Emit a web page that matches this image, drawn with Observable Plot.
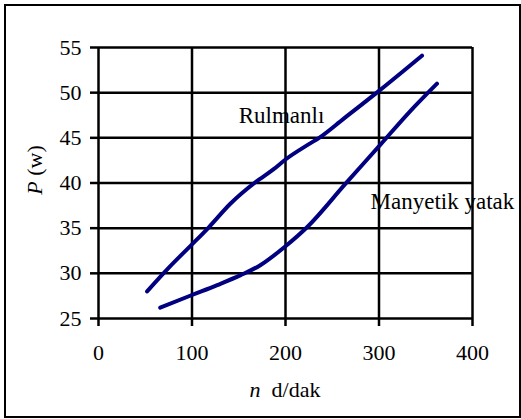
<!DOCTYPE html>
<html><head><meta charset="utf-8">
<script src="https://cdn.jsdelivr.net/npm/d3@7"></script>
<script src="https://cdn.jsdelivr.net/npm/@observablehq/plot@0.6"></script>
<style>
body{margin:0;background:#fff;}
#wrap{position:relative;width:521px;height:419px;}
#border{position:absolute;left:4px;top:4px;width:513px;height:410px;border:2px solid #000;pointer-events:none;}
#wrap svg, #wrap svg text{font-family:'Liberation Serif','Times New Roman',serif !important;}
</style></head>
<body><div id="wrap"><div id="border"></div></div>
<script>
const rulmanliN = [52, 75, 100, 118, 141, 168, 187, 200, 225, 236, 262, 300, 346];
const rulmanliP = [28.0, 30.6, 33.2, 35.1, 37.7, 40.1, 41.5, 42.6, 44.3, 45.0, 47.1, 50.2, 54.1];
const manyetikN = [66, 100, 127, 152, 173, 200, 223, 264, 302, 332, 362];
const manyetikP = [26.2, 27.6, 28.7, 29.8, 30.9, 33.0, 35.1, 39.9, 44.3, 47.8, 51.0];
const xTicks = [0, 100, 200, 300, 400];
const yTicks = [25, 30, 35, 40, 45, 50, 55];
const seriesLabels = ["Rulmanlı", "Manyetik yatak"];
const labelN = [150, 291];
const labelP = [47.5, 37.9];

const rows = [
  ...rulmanliN.map((n, i) => ({n, P: rulmanliP[i], s: seriesLabels[0]})),
  ...manyetikN.map((n, i) => ({n, P: manyetikP[i], s: seriesLabels[1]}))
];
const labels = seriesLabels.map((t, i) => ({t, n: labelN[i], P: labelP[i]}));
const FF = "'Liberation Serif','Times New Roman',serif";

const chart = Plot.plot({
  width: 521, height: 419,
  marginLeft: 98, marginRight: 49, marginTop: 47, marginBottom: 101,
  style: {fontFamily: FF, fontSize: "22px", color: "#000", background: "transparent", overflow: "visible"},
  x: {domain: [0, 400], ticks: xTicks, label: null},
  y: {domain: [25, 55], ticks: yTicks, label: null},
  marks: [
    Plot.gridX(xTicks, {stroke: "#000", strokeOpacity: 1, strokeWidth: 2.5}),
    Plot.gridY(yTicks, {stroke: "#000", strokeOpacity: 1, strokeWidth: 2.5}),
    Plot.axisX({ticks: xTicks, tickSize: 8, tickPadding: 18, stroke: "#000", strokeWidth: 2.5, fontSize: 22, fill: "#000"}),
    Plot.axisY({ticks: yTicks, tickSize: 8, tickPadding: 9, stroke: "#000", strokeWidth: 2.5, fontSize: 22, fill: "#000"}),
    Plot.line(rows, {x: "n", y: "P", z: "s", stroke: "#000080", strokeWidth: 4, curve: "monotone-x", strokeLinecap: "round"}),
    Plot.text(labels, {x: "n", y: "P", text: "t", fontSize: 23, fill: "#000", textAnchor: "start"})
  ]
});
document.getElementById("wrap").prepend(chart);
const svg = d3.select(chart);
svg.attr("font-family", FF);
const yl = svg.append("text").attr("transform", "translate(42,170) rotate(-90)")
  .attr("text-anchor", "middle").attr("font-size", 22).attr("fill", "#000").attr("font-family", FF);
yl.append("tspan").attr("font-style", "italic").text("P");
yl.append("tspan").text(" (w)");
const xl = svg.append("text").attr("x", 285).attr("y", 397)
  .attr("text-anchor", "middle").attr("font-size", 22).attr("fill", "#000").attr("font-family", FF);
xl.append("tspan").attr("font-style", "italic").text("n");
xl.append("tspan").text("  d/dak");
</script></body></html>
